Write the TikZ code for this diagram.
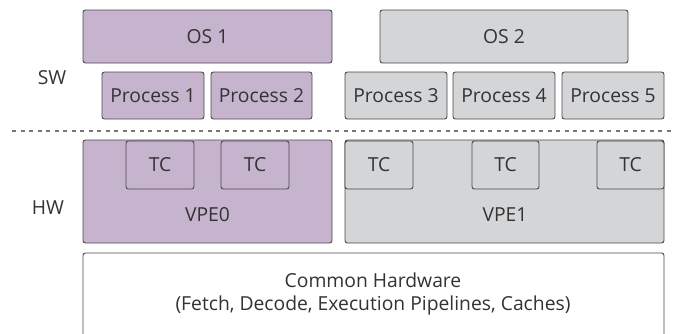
\documentclass[tikz,border=0pt]{standalone}
\usepackage{fontspec}
\setmainfont{Open Sans}
\usetikzlibrary{positioning}
\definecolor{osPurple}{HTML}{C6B4CF}
\definecolor{osGrey}{HTML}{D4D5D7}
\definecolor{lineGrey}{HTML}{4A4A4A}
\definecolor{txtGrey}{HTML}{333333}
\tikzset{
BOX/.style ={rectangle,rounded corners=2.5pt,draw=lineGrey,line width=0.9pt,inner sep=0pt,text=txtGrey,font=\fontsize{19.3}{23}\selectfont},
PURPLE/.style={BOX,fill=osPurple},
GREY/.style={BOX,fill=osGrey},
LBL/.style={text=txtGrey,font=\fontsize{19.3}{23}\selectfont},
}
\begin{document}
\begin{tikzpicture}[x=1pt,y=-1pt] %SW/HW layers
	\useasboundingbox[fill=white] (0,0) rectangle (675,333);
	\node[LBL] (sw) at (52,78) {SW};
	\node[LBL] (hw) at (48,208) {HW};
	\node[PURPLE,minimum width=249,minimum height=53] (os1) at (207.5,36.5) {OS 1};
	\node[GREY,minimum width=248,minimum height=53] (os2) at (504,36.5) {OS 2};
	\node[PURPLE,minimum width=102,minimum height=47] (p1) at (153,95.5) {Process 1};
	\node[PURPLE,minimum width=101,minimum height=47] (p2) at (261.5,95.5) {Process 2};
	\node[GREY,minimum width=102,minimum height=47] (p3) at (396,95.5) {Process 3};
	\node[GREY,minimum width=102,minimum height=47] (p4) at (504,95.5) {Process 4};
	\node[GREY,minimum width=102,minimum height=47] (p5) at (613,95.5) {Process 5};
	\coordinate (dashL) at (12,131);
	\coordinate (dashR) at (675,131);
	\draw[lineGrey!75,line width=1.4pt,dash pattern=on 4pt off 4.5pt] (dashL) -- (dashR);
	\node[PURPLE,minimum width=249,minimum height=103] (vpe0) at (207.5,191.5) {};
	\node[GREY,minimum width=319,minimum height=103] (vpe1) at (504.5,191.5) {};
	\node[LBL] (vpe0txt) at (207.5,215) {VPE0};
	\node[LBL] (vpe1txt) at (505,215) {VPE1};
	\node[PURPLE,minimum width=68,minimum height=48] (tc1) at (160,165) {TC};
	\node[PURPLE,minimum width=68,minimum height=48] (tc2) at (255,165) {TC};
	\node[GREY,minimum width=68,minimum height=48] (tc3) at (379,165) {TC};
	\node[GREY,minimum width=67,minimum height=48] (tc4) at (505.5,165) {TC};
	\node[GREY,minimum width=67,minimum height=48] (tc5) at (630.5,165) {TC};
	\draw[lineGrey,line width=0.9pt,rounded corners=2.5pt] (83,334) -- (83,253) -- (664,253) -- (664,334);
	\node[LBL,align=center] (common) at (373,294) {Common Hardware\\(Fetch, Decode, Execution Pipelines, Caches)};
\end{tikzpicture}
\end{document}
